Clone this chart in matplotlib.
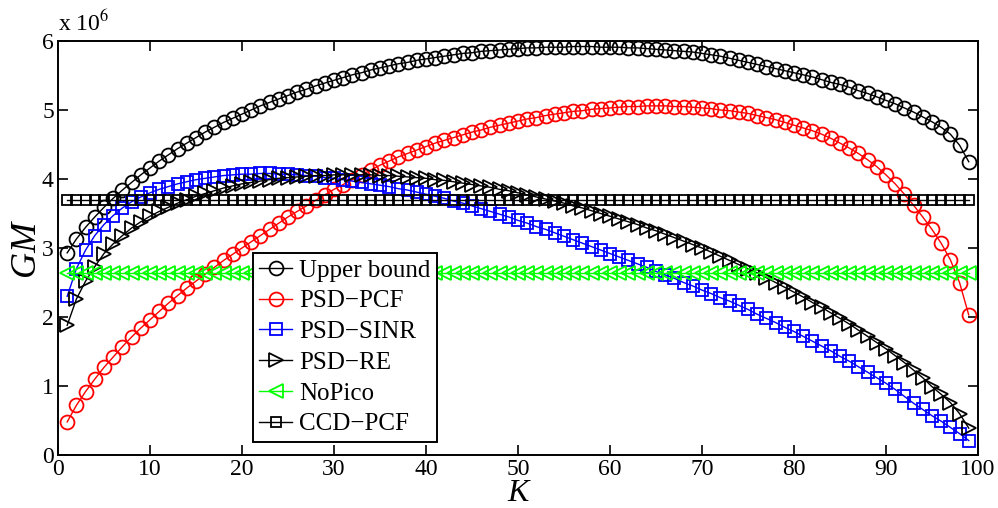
import matplotlib
matplotlib.use("Agg")
import matplotlib.pyplot as plt
import numpy as np

plt.rcParams['font.family'] = ['Liberation Serif', 'DejaVu Serif']
plt.rcParams['mathtext.fontset'] = 'stix'

# number of pico cells K
K = list(range(1, 100))

# GM values in units of 1e6
upper_bound = [
    2.93, 3.13, 3.30, 3.45, 3.59, 3.72, 3.84, 3.95, 4.06, 4.16,
    4.26, 4.35, 4.44, 4.52, 4.60, 4.68, 4.75, 4.82, 4.88, 4.94,
    5.00, 5.06, 5.11, 5.16, 5.21, 5.26, 5.30, 5.35, 5.39, 5.43,
    5.47, 5.51, 5.54, 5.58, 5.61, 5.64, 5.67, 5.69, 5.72, 5.74,
    5.76, 5.78, 5.80, 5.82, 5.83, 5.85, 5.86, 5.87, 5.88, 5.89,
    5.90, 5.90, 5.91, 5.91, 5.91, 5.92, 5.92, 5.92, 5.91, 5.91,
    5.91, 5.90, 5.90, 5.89, 5.88, 5.87, 5.86, 5.85, 5.84, 5.82,
    5.80, 5.78, 5.75, 5.72, 5.69, 5.66, 5.63, 5.60, 5.57, 5.54,
    5.51, 5.48, 5.44, 5.40, 5.37, 5.33, 5.28, 5.24, 5.19, 5.14,
    5.09, 5.03, 4.97, 4.90, 4.83, 4.75, 4.65, 4.49, 4.25,
]

psd_pcf = [
    0.48, 0.72, 0.92, 1.10, 1.27, 1.42, 1.57, 1.71, 1.84, 1.96,
    2.08, 2.20, 2.31, 2.42, 2.52, 2.62, 2.72, 2.82, 2.91, 3.00,
    3.09, 3.18, 3.27, 3.36, 3.45, 3.53, 3.61, 3.69, 3.77, 3.85,
    3.92, 3.99, 4.06, 4.13, 4.20, 4.26, 4.32, 4.37, 4.42, 4.47,
    4.52, 4.56, 4.60, 4.64, 4.68, 4.71, 4.75, 4.78, 4.81, 4.84,
    4.87, 4.89, 4.92, 4.94, 4.96, 4.98, 4.99, 5.01, 5.02, 5.03,
    5.04, 5.05, 5.05, 5.06, 5.06, 5.06, 5.05, 5.05, 5.04, 5.03,
    5.02, 5.00, 4.99, 4.97, 4.95, 4.92, 4.89, 4.86, 4.82, 4.78,
    4.74, 4.70, 4.65, 4.59, 4.52, 4.45, 4.37, 4.28, 4.18, 4.06,
    3.93, 3.78, 3.62, 3.45, 3.27, 3.07, 2.83, 2.50, 2.03,
]

psd_sinr = [
    2.30, 2.70, 2.97, 3.18, 3.34, 3.47, 3.58, 3.67, 3.74, 3.80,
    3.85, 3.89, 3.93, 3.96, 3.99, 4.01, 4.03, 4.05, 4.06, 4.07,
    4.07, 4.08, 4.08, 4.07, 4.07, 4.06, 4.05, 4.04, 4.02, 4.01,
    3.99, 3.97, 3.95, 3.93, 3.91, 3.89, 3.86, 3.84, 3.81, 3.78,
    3.75, 3.72, 3.68, 3.65, 3.61, 3.57, 3.53, 3.49, 3.45, 3.40,
    3.36, 3.31, 3.27, 3.22, 3.17, 3.12, 3.07, 3.02, 2.97, 2.92,
    2.87, 2.82, 2.77, 2.72, 2.66, 2.61, 2.56, 2.50, 2.45, 2.39,
    2.34, 2.28, 2.23, 2.17, 2.11, 2.04, 1.98, 1.92, 1.85, 1.79,
    1.72, 1.65, 1.58, 1.51, 1.43, 1.36, 1.28, 1.20, 1.12, 1.04,
    0.95, 0.85, 0.75, 0.66, 0.57, 0.49, 0.40, 0.31, 0.21,
]

psd_re = [
    1.88, 2.26, 2.52, 2.73, 2.92, 3.06, 3.18, 3.29, 3.38, 3.46,
    3.53, 3.59, 3.65, 3.70, 3.75, 3.79, 3.83, 3.87, 3.90, 3.93,
    3.95, 3.97, 3.99, 4.01, 4.02, 4.03, 4.04, 4.05, 4.05, 4.06,
    4.06, 4.06, 4.06, 4.06, 4.05, 4.05, 4.04, 4.03, 4.02, 4.01,
    3.99, 3.98, 3.96, 3.94, 3.92, 3.90, 3.88, 3.85, 3.83, 3.80,
    3.77, 3.74, 3.71, 3.68, 3.65, 3.61, 3.58, 3.54, 3.50, 3.46,
    3.42, 3.38, 3.34, 3.29, 3.25, 3.20, 3.15, 3.10, 3.05, 3.00,
    2.94, 2.88, 2.82, 2.76, 2.70, 2.64, 2.57, 2.50, 2.43, 2.36,
    2.29, 2.21, 2.14, 2.06, 1.98, 1.90, 1.81, 1.72, 1.63, 1.54,
    1.44, 1.34, 1.23, 1.12, 0.99, 0.88, 0.76, 0.60, 0.39,
]

nopico = [2.64] * len(K)
ccd_pcf = [3.69] * len(K)

scale = 1e6

fig = plt.figure(figsize=(9.98, 5.08), dpi=100)
ax = fig.add_axes([0.0581, 0.1043, 0.9218, 0.815])

lw = 1.0
mew = 1.3
ax.plot(K, np.array(upper_bound) * scale, '-o', color='black', mfc='none',
        ms=10, lw=lw, mew=mew, label='Upper bound')
ax.plot(K, np.array(psd_pcf) * scale, '-o', color='red', mfc='none',
        ms=10, lw=lw, mew=mew, label='PSD\u2212PCF')
ax.plot(K, np.array(psd_sinr) * scale, '-s', color='blue', mfc='none',
        ms=8, lw=lw, mew=mew, label='PSD\u2212SINR')
ax.plot(K, np.array(psd_re) * scale, '->', color='black', mfc='none',
        ms=10, lw=lw, mew=mew, label='PSD\u2212RE')
ax.plot(K, np.array(nopico) * scale, '-<', color='#00ff00', mfc='none',
        ms=10, lw=lw, mew=mew, label='NoPico')
ax.plot(K, np.array(ccd_pcf) * scale, '-s', color='black', mfc='none',
        ms=7, lw=lw, mew=mew, label='CCD\u2212PCF')

ax.set_xlim(0, 100)
ax.set_ylim(0, 6e6)
ax.set_xticks(range(0, 101, 10))
ax.set_yticks([i * 1e6 for i in range(7)])
ax.set_yticklabels([str(i) for i in range(7)])
ax.tick_params(direction='in', length=7, width=1.2, top=True, right=True,
               labelsize=17, pad=3)
for s in ax.spines.values():
    s.set_linewidth(1.4)

ax.text(0.0, 1.012, 'x 10$^{6}$', transform=ax.transAxes, fontsize=17,
        ha='left', va='bottom')

ax.set_xlabel('K', fontsize=23, style='italic', labelpad=-1)
ax.set_ylabel('GM', fontsize=26, style='italic', labelpad=0)

leg = ax.legend(loc='upper left', bbox_to_anchor=(0.212, 0.488),
                borderaxespad=0, fontsize=18, handlelength=1.3,
                handletextpad=0.3, labelspacing=0.33, borderpad=0.25,
                fancybox=False, framealpha=1, edgecolor='black')
leg.get_frame().set_linewidth(1.4)

fig.savefig('out.png', dpi=100)
